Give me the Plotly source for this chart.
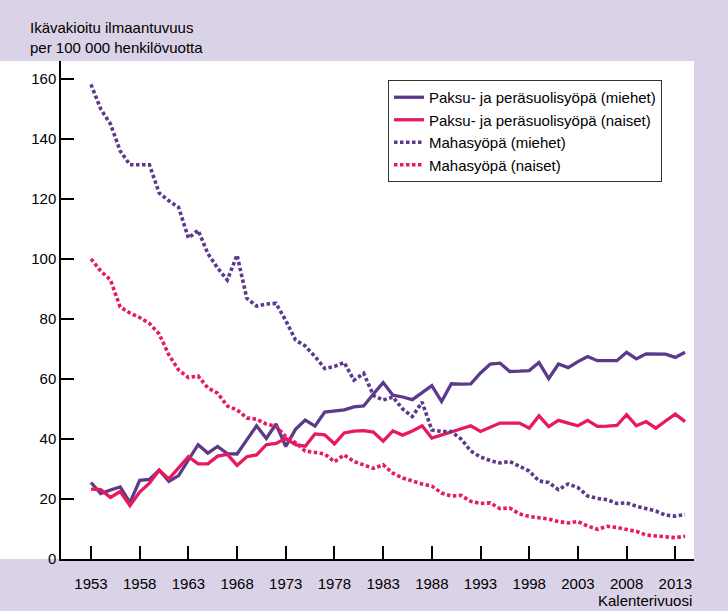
import plotly.graph_objects as go

years = list(range(1953, 2015))

paksu_miehet = [25.5, 21.8, 23.0, 24.0, 18.8, 26.2, 26.5, 29.6, 25.9, 27.8,
                33.0, 38.1, 35.3, 37.5, 35.1, 35.0, 39.7, 44.4, 40.2, 45.0,
                37.5, 43.2, 46.3, 44.3, 49.0, 49.3, 49.7, 50.7, 51.0, 55.0,
                58.8, 54.6, 54.0, 53.1, 55.5, 57.8, 52.5, 58.4, 58.3, 58.4,
                62.0, 65.0, 65.3, 62.5, 62.6, 62.8, 65.5, 60.1, 65.0, 63.8,
                65.8, 67.5, 66.1, 66.1, 66.1, 68.9, 66.7, 68.4, 68.4, 68.3,
                67.2, 68.9]

paksu_naiset = [23.3, 23.1, 20.5, 22.5, 17.8, 22.3, 25.3, 29.6, 26.7, 30.3,
                34.1, 31.7, 31.7, 34.3, 34.9, 31.2, 34.1, 34.7, 38.1, 38.5,
                40.2, 38.1, 37.6, 41.7, 41.4, 38.4, 42.0, 42.6, 42.8, 42.3,
                39.3, 42.7, 41.3, 42.7, 44.4, 40.3, 41.3, 42.5, 43.4, 44.4,
                42.5, 44.0, 45.3, 45.3, 45.3, 43.6, 47.7, 44.1, 46.2, 45.3,
                44.4, 46.2, 44.2, 44.3, 44.5, 48.1, 44.4, 45.8, 43.6, 46.0,
                48.3, 45.8]

maha_miehet = [158.2, 150.0, 145.0, 136.0, 131.4, 131.4, 131.4, 122.0, 119.4, 117.2,
               107.0, 109.6, 101.8, 97.0, 93.0, 101.3, 86.9, 84.3, 85.0, 85.2,
               79.5, 73.0, 71.0, 67.5, 63.5, 64.2, 65.5, 59.6, 61.9, 54.5,
               53.0, 54.0, 50.0, 47.5, 52.3, 43.0, 42.5, 42.5, 40.0, 36.0,
               34.0, 32.8, 32.0, 32.5, 31.0, 29.3, 26.0, 25.5, 23.1, 25.0,
               23.8, 21.0, 20.2, 19.8, 18.5, 18.7, 17.6, 16.8, 16.0, 14.6,
               14.3, 14.8]

maha_naiset = [100.0, 96.0, 93.0, 84.0, 82.0, 80.5, 78.5, 75.0, 68.0, 63.0,
               60.5, 61.0, 57.0, 55.3, 51.0, 49.7, 47.0, 46.6, 45.0, 44.2,
               40.8, 38.8, 36.0, 35.5, 35.0, 32.4, 34.7, 32.5, 31.5, 30.2,
               31.4, 28.6, 27.0, 25.9, 25.0, 24.3, 22.0, 21.0, 21.2, 19.2,
               18.5, 18.7, 16.8, 17.0, 15.0, 14.2, 13.8, 13.3, 12.5, 12.0,
               12.5, 11.0, 9.9, 10.9, 10.5, 10.0, 9.2, 8.0, 7.8, 7.3,
               7.1, 7.6]

series_names = ["Paksu- ja peräsuolisyöpä (miehet)",
                "Paksu- ja peräsuolisyöpä (naiset)",
                "Mahasyöpä (miehet)",
                "Mahasyöpä (naiset)"]

x_ticks = list(range(1953, 2014, 5))
y_ticks = list(range(0, 161, 20))

PURPLE = "#5b3a8c"
PINK = "#e8195e"
BG = "#dad2e6"
FONT = "Liberation Sans, Arial, sans-serif"
FS = 15

fig = go.Figure()
for vals, name, color, dash in [
    (paksu_miehet, series_names[0], PURPLE, "solid"),
    (paksu_naiset, series_names[1], PINK, "solid"),
    (maha_miehet, series_names[2], PURPLE, "3.5px,2.5px"),
    (maha_naiset, series_names[3], PINK, "3.5px,2.5px"),
]:
    fig.add_trace(go.Scatter(x=years, y=vals, name=name, mode="lines",
                             line=dict(color=color, width=3.3 if dash == "solid" else 3.6,
                                       dash=dash)))

L, R, T, B = 61, 34, 61, 52
W, H = 728, 611
pw = W - L - R
ph = H - T - B

fig.update_layout(
    width=W, height=H,
    margin=dict(l=L, r=R, t=T, b=B),
    paper_bgcolor=BG,
    plot_bgcolor="white",
    font=dict(family=FONT, size=FS, color="black"),
    showlegend=True,
    legend=dict(x=(388 - L) / pw, y=(H - B - 80) / ph, xanchor="left", yanchor="top",
                bgcolor="white", bordercolor="#333333", borderwidth=1,
                font=dict(family=FONT, size=FS, color="black"),
                tracegroupgap=0),
    xaxis=dict(range=[1949.92, 2014.92], tickmode="array", tickvals=x_ticks,
               ticktext=[str(t) for t in x_ticks],
               ticks="inside", ticklen=13, tickwidth=1.5, tickcolor="black",
               ticklabelstandoff=10,
               showline=True, linecolor="black", linewidth=1.5,
               showgrid=False, zeroline=False,
               tickfont=dict(family=FONT, size=FS, color="black")),
    yaxis=dict(range=[0, 166], tickmode="array", tickvals=y_ticks,
               ticks="inside", ticklen=13, tickwidth=1.5, tickcolor="black",
               showline=True, linecolor="black", linewidth=1.5,
               showgrid=False, zeroline=False,
               tickfont=dict(family=FONT, size=FS, color="black")),
    shapes=[dict(type="rect", xref="paper", yref="paper",
                 x0=-L / pw, x1=1, y0=0, y1=1,
                 fillcolor="white", line=dict(width=0), layer="below")],
    annotations=[
        dict(text="Ikävakioitu ilmaantuvuus", xref="paper", yref="paper",
             x=(28 - L) / pw, y=(H - B - 27.5) / ph, xanchor="left", yanchor="middle",
             showarrow=False, font=dict(family=FONT, size=FS, color="black")),
        dict(text="per 100 000 henkilövuotta", xref="paper", yref="paper",
             x=(28 - L) / pw, y=(H - B - 47) / ph, xanchor="left", yanchor="middle",
             showarrow=False, font=dict(family=FONT, size=FS, color="black")),
        dict(text="Kalenterivuosi", xref="paper", yref="paper",
             x=1, y=(H - B - 600) / ph, xanchor="right", yanchor="middle",
             showarrow=False, font=dict(family=FONT, size=FS, color="black")),
    ],
)

fig.write_html("out.html", config={"displayModeBar": False},
               post_script="document.body.style.margin='0';")
